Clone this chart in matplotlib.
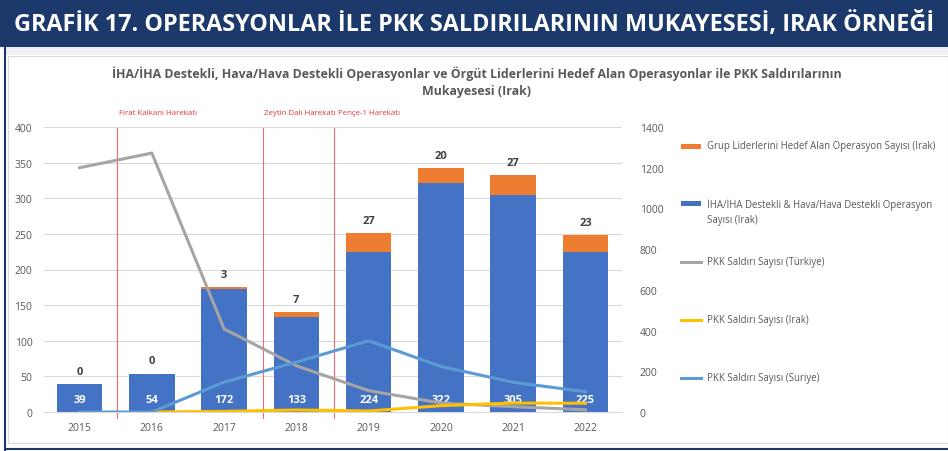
import matplotlib.pyplot as plt
from matplotlib.patches import Rectangle
from matplotlib.lines import Line2D
import numpy as np

plt.rcParams['font.family'] = ['Open Sans', 'DejaVu Sans']

# data
years = ['2015', '2016', '2017', '2018', '2019', '2020', '2021', '2022']
iha_ops = [39, 54, 172, 133, 224, 322, 305, 225]
lider_ops = [0, 0, 3, 7, 27, 20, 27, 23]
pkk_turkiye = [1200, 1272, 408, 227, 105, 44, 26, 11]
pkk_irak = [np.nan, 0, 3, 10, 5, 31, 44, 43]
pkk_suriye = [0, 0, 147, 245, 350, 224, 146, 100]
harekat_pos = [0.52, 2.54, 3.52]
harekat_names = ['Fırat Kalkanı Harekatı', 'Zeytin Dalı Harekatı', 'Pençe-1 Harekatı']

c_blue = '#4472C4'
c_orange = '#ED7D31'
c_gray = '#A5A5A5'
c_yellow = '#FFC000'
c_lblue = '#5B9BD5'
txt_gray = '#595959'

W, H = 948, 452
fig = plt.figure(figsize=(W / 100, H / 100), dpi=100)

def fx(px):
    return px / W

def fy(py):
    return 1 - py / H

# header band and frame
fig.add_artist(Rectangle((0, fy(48)), 1, 48 / H, transform=fig.transFigure,
                         facecolor='#1B3A6B', edgecolor='none', zorder=0))
fig.add_artist(Rectangle((fx(5), fy(56)), 1, 8 / H, transform=fig.transFigure,
                         facecolor='#EEF0F5', edgecolor='none', zorder=0))
fig.add_artist(Rectangle((fx(8), fy(444)), fx(940), (444 - 57) / H, transform=fig.transFigure,
                         facecolor='white', edgecolor='#D9D9D9', lw=0.8, zorder=0))
fig.add_artist(Line2D([fx(5), fx(5)], [fy(48), 0], transform=fig.transFigure,
                      color='#1B3A6B', lw=1.5))
fig.add_artist(Line2D([fx(5), 1], [fy(450), fy(450)], transform=fig.transFigure,
                      color='#1B3A6B', lw=1.5))
fig.text(fx(474), fy(25), 'GRAFİK 17. OPERASYONLAR İLE PKK SALDIRILARININ MUKAYESESİ, IRAK ÖRNEĞİ',
         color='white', fontsize=16.8, fontweight='bold', ha='center', va='center')

# chart title
fig.text(fx(477), fy(74), 'İHA/İHA Destekli, Hava/Hava Destekli Operasyonlar ve Örgüt Liderlerini Hedef Alan Operasyonlar ile PKK Saldırılarının',
         color=txt_gray, fontsize=8.9, fontweight='bold', ha='center', va='center')
fig.text(fx(477), fy(92), 'Mukayesesi (Irak)',
         color=txt_gray, fontsize=8.9, fontweight='bold', ha='center', va='center')

ax = fig.add_axes([fx(43.5), fy(413), fx(621.5 - 43.5), (413 - 128) / H])
x = np.arange(len(years))
ax.bar(x, iha_ops, width=0.63, color=c_blue, zorder=2)
ax.bar(x, lider_ops, width=0.63, bottom=iha_ops, color=c_orange, zorder=2)
for i in range(len(years)):
    ax.text(x[i], 18, str(iha_ops[i]), color='white', fontsize=8, fontweight='bold',
            ha='center', va='center', zorder=6)
    ax.text(x[i], iha_ops[i] + lider_ops[i] + 18, str(lider_ops[i]), color='#404040',
            fontsize=8, fontweight='bold', ha='center', va='center', zorder=6)

ax.set_xlim(-0.5, len(years) - 0.5)
ax.set_ylim(0, 400)
ax.set_yticks(range(0, 401, 50))
ax.set_xticks(x)
ax.set_xticklabels(years)
ax.yaxis.grid(True, color='#D9D9D9', lw=0.8, zorder=0)
ax.set_axisbelow(True)
for s in ['top', 'right', 'left']:
    ax.spines[s].set_visible(False)
ax.spines['bottom'].set_color('#D9D9D9')
ax.tick_params(axis='both', length=0, labelsize=7.5, colors=txt_gray)
ax.tick_params(axis='y', pad=8)
ax.tick_params(axis='x', pad=7)

ax2 = ax.twinx()
ax2.plot(x, pkk_turkiye, color=c_gray, lw=2.2, zorder=3)
ax2.plot(x, pkk_irak, color=c_yellow, lw=2.2, zorder=3)
ax2.plot(x, pkk_suriye, color=c_lblue, lw=2.2, zorder=3)
ax2.set_ylim(0, 1400)
ax2.set_yticks(range(0, 1401, 200))
for s in ['top', 'right', 'left', 'bottom']:
    ax2.spines[s].set_visible(False)
ax2.tick_params(axis='y', length=0, labelsize=7.5, colors=txt_gray, pad=13)

# operation markers
for p in harekat_pos:
    ax.plot([p, p], [-8, 398], color='#F06B70', lw=0.8, clip_on=False, zorder=1)
ax.text(harekat_pos[0] + 0.03, 420, harekat_names[0], color='#E8363C', fontsize=5.7,
        ha='left', va='center', clip_on=False)
ax.text(harekat_pos[1] + 0.01, 420, harekat_names[1], color='#E8363C', fontsize=5.7,
        ha='left', va='center', clip_on=False)
ax.text(harekat_pos[1] + 1.03, 420, harekat_names[2], color='#E8363C', fontsize=5.7,
        ha='left', va='center', clip_on=False)

# legend drawn by hand
leg = [
    ('patch', c_orange, 147, 'Grup Liderlerini Hedef Alan Operasyon Sayısı (Irak)'),
    ('patch', c_blue, 204, 'İHA/İHA Destekli & Hava/Hava Destekli Operasyon\nSayısı (Irak)'),
    ('line', c_gray, 263, 'PKK Saldırı Sayısı (Türkiye)'),
    ('line', c_yellow, 321, 'PKK Saldırı Sayısı (Irak)'),
    ('line', c_lblue, 379, 'PKK Saldırı Sayısı (Suriye)'),
]
for kind, col, py, label in leg:
    if kind == 'patch':
        fig.add_artist(Rectangle((fx(681), fy(py + 2.5)), fx(20), 5 / H,
                                 transform=fig.transFigure, facecolor=col, edgecolor='none'))
    else:
        fig.add_artist(Line2D([fx(681), fx(701)], [fy(py), fy(py)], transform=fig.transFigure,
                              color=col, lw=2.2))
    if '\n' in label:
        fig.text(fx(707), fy(py - 6), label, color=txt_gray, fontsize=6.9, ha='left',
                 va='top', linespacing=1.5)
    else:
        fig.text(fx(707), fy(py), label, color=txt_gray, fontsize=6.9, ha='left',
                 va='center')

fig.savefig('out.png', dpi=100)
